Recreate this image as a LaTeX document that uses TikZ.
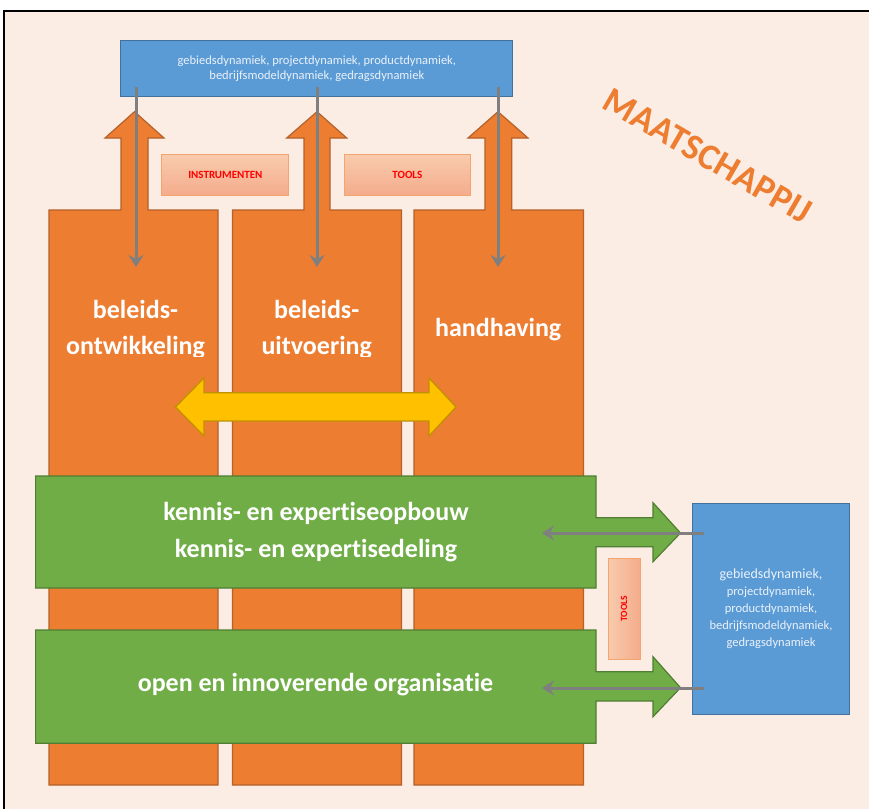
\documentclass[tikz,border=0pt]{standalone}
\usepackage{fontspec}
\setmainfont{Carlito}[Ligatures=NoCommon]
\usetikzlibrary{arrows.meta}
\definecolor{bg}{HTML}{FBEDE3}
\definecolor{org}{HTML}{ED7D31}
\definecolor{orgd}{HTML}{B5612A}
\definecolor{grn}{HTML}{70AD47}
\definecolor{grnd}{HTML}{507E32}
\definecolor{blu}{HTML}{5B9BD5}
\definecolor{blud}{HTML}{41719C}
\definecolor{ylw}{HTML}{FFC000}
\definecolor{ylwd}{HTML}{BF9000}
\definecolor{salL}{HTML}{F8CBAD}
\definecolor{salD}{HTML}{F4AC8C}
\definecolor{salB}{HTML}{F4A46C}
\definecolor{gry}{HTML}{7F7F7F}
\definecolor{txtl}{HTML}{EAF1FA}
\begin{document}
\begin{tikzpicture}[x=1pt,y=-1pt,
  colshape/.style={fill=org,draw=orgd,line width=1.2pt},
  band/.style={fill=grn,draw=grnd,line width=1.2pt},
  bluebox/.style={fill=blu,draw=blud,line width=1.2pt,inner sep=0pt,text=txtl,align=center},
  toolbox/.style={draw=salB,line width=1pt,top color=salL,bottom color=salD,inner sep=0pt,
    font=\bfseries\fontsize{11}{12}\selectfont,text=red},
  conn/.style={draw=gry,line width=3pt,-{Stealth[length=12pt,width=15pt,inset=4pt]}},
  coltext/.style={text=white,font=\bfseries\fontsize{26}{30}\selectfont,anchor=base,inner sep=0pt},
  bandtext/.style={text=white,font=\bfseries\fontsize{26}{30}\selectfont,anchor=base,inner sep=0pt},
  dbl/.style={fill=ylw,draw=ylwd,line width=1.2pt}
]
\useasboundingbox (0,0) rectangle (869,808);
\fill[white] (0,0) rectangle (869,808);
\fill[bg] (4,11.5) rectangle (875,815);
\draw[black,line width=2pt] (4,815) -- (4,11.5) -- (875,11.5);

% orange columns with up arrows
\path[colshape] (49,785) -- (49,210) -- (121,210) -- (121,138) -- (105,138) -- (134.5,111.7)
  -- (164,138) -- (148,138) -- (148,210) -- (218,210) -- (218,785) -- cycle;
\path[colshape] (232.5,785) -- (232.5,210) -- (304,210) -- (304,138) -- (286.7,138) -- (317,111.7)
  -- (346.7,138) -- (330,138) -- (330,210) -- (401.5,210) -- (401.5,785) -- cycle;
\path[colshape] (414,785) -- (414,210) -- (485,210) -- (485,138) -- (468,138) -- (498,111.7)
  -- (528,138) -- (511.7,138) -- (511.7,210) -- (583.5,210) -- (583.5,785) -- cycle;

% top blue box
\node[bluebox,minimum width=392pt,minimum height=56pt,font=\fontsize{12.5}{15.7}\selectfont]
  (topbox) at (316.85,68.7) {gebiedsdynamiek, projectdynamiek, productdynamiek,\\bedrijfsmodeldynamiek, gedragsdynamiek};

% instrument / tools boxes
\node[toolbox,minimum width=127pt,minimum height=41.7pt] (instr) at (225.35,174.85) {INSTRUMENTEN};
\node[toolbox,minimum width=126.7pt,minimum height=41.7pt] (tools1) at (407.35,174.85) {TOOLS};

% connectors from top box into columns
\coordinate (s1) at (136,87);   \coordinate (e1) at (136,267);
\coordinate (s2) at (317,87);   \coordinate (e2) at (317,267);
\coordinate (s3) at (498,87);   \coordinate (e3) at (498,267);
\draw[conn] (s1) -- (e1);
\draw[conn] (s2) -- (e2);
\draw[conn] (s3) -- (e3);

% column texts
\begin{scope}
\clip (0,0) rectangle (869,356.5);
\node[coltext] (t1a) at (135.5,318.3) {beleids-};
\node[coltext] (t1b) at (135.5,354.3) {ontwikkeling};
\node[coltext] (t2a) at (316.7,318.3) {beleids-};
\node[coltext] (t2b) at (316.7,354.3) {uitvoering};
\node[coltext] (t3) at (498.2,336.7) {handhaving};
\end{scope}

% yellow double arrow
\path[dbl] (175.5,407) -- (204,378) -- (204,392.7) -- (429,392.7) -- (429,378) -- (456,407)
  -- (429,436) -- (429,421) -- (204,421) -- (204,436) -- cycle;

% green bands
\path[band] (35.6,476) -- (596,476) -- (596,517.7) -- (653,517.7) -- (653,502.7) -- (680.5,533)
  -- (653,561.7) -- (653,546.7) -- (596,546.7) -- (596,588) -- (35.6,588) -- cycle;
\path[band] (35.6,630) -- (596,630) -- (596,671.7) -- (653,671.7) -- (653,656.7) -- (680.5,687.7)
  -- (653,716.7) -- (653,701) -- (596,701) -- (596,743.3) -- (35.6,743.3) -- cycle;
\node[bandtext] (b1a) at (316,520) {kennis- en expertiseopbouw};
\node[bandtext] (b1b) at (316,557.3) {kennis- en expertisedeling};
\node[bandtext] (b2) at (315.5,691.7) {open en innoverende organisatie};

% right blue box
\node[bluebox,minimum width=156.6pt,minimum height=211pt,font=\fontsize{12.5}{17}\selectfont]
  (rightbox) at (771,608.8) {{\fontsize{14}{17}\selectfont gebiedsdynamiek,}\\projectdynamiek,\\productdynamiek,\\bedrijfsmodeldynamiek,\\gedragsdynamiek};

% vertical tools box
\node[draw=salB,line width=1pt,left color=salL,right color=salD,inner sep=0pt,
  minimum width=32pt,minimum height=100.3pt,text=red,font=\bfseries\fontsize{9.5}{11}\selectfont]
  (tools2) at (624,608.85) {\rotatebox{90}{TOOLS}};

% connectors from right box to bands
\coordinate (r1) at (704,533);  \coordinate (f1) at (542,533);
\coordinate (r2) at (704,688);  \coordinate (f2) at (542,688);
\draw[conn] (r1) -- (f1);
\draw[conn] (r2) -- (f2);

% society label
\node[text=org,font=\bfseries\fontsize{36.5}{40}\selectfont,rotate=-30,inner sep=0pt] (maat) at (708,156) {MAATSCHAPPIJ};
\end{tikzpicture}
\end{document}
